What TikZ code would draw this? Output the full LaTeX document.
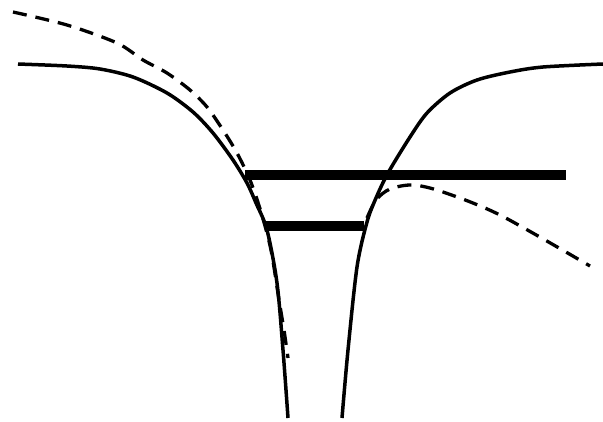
\documentclass[tikz,border=0pt]{standalone}
\begin{document}
\begin{tikzpicture}[x=1pt,y=-1pt,
  curve/.style={line width=3.5pt},
  dcurve/.style={line width=3.3pt,dash pattern=on 14pt off 9pt},
  level/.style={line width=9.5pt}]
\useasboundingbox (0,0) rectangle (603,421);
% left well wall
\draw[curve] plot[smooth] coordinates {(18,64) (67,66) (100,69) (133,77) (167,93) (193,112) (213,133) (233,160) (247,183) (256,203) (267,230) (277,283) (283,350) (288,418)};
% right well wall
\draw[curve] plot[smooth] coordinates {(342,418) (348,350) (357,267) (367,222) (376,198) (388,173) (410,137) (427,113) (450,93) (477,80) (510,72) (543,67) (603,64)};
% dashed potential, left part
\draw[dcurve] plot[smooth] coordinates {(13,12) (67,25) (117,43) (143,60) (167,73) (190,90) (207,107) (223,130) (237,153) (250,180) (261,212) (271,250) (279,300) (284,330) (288,358)};
% dashed potential, right part
\draw[dcurve] plot[smooth] coordinates {(367,218) (376,200) (390,189) (413,185) (443,192) (500,215) (590,266)};
% levels
\coordinate (u1) at (245,175); \coordinate (u2) at (566,175);
\coordinate (l1) at (266,226); \coordinate (l2) at (364,226);
\draw[level] (u1) -- (u2);
\draw[level] (l1) -- (l2);
\end{tikzpicture}
\end{document}
